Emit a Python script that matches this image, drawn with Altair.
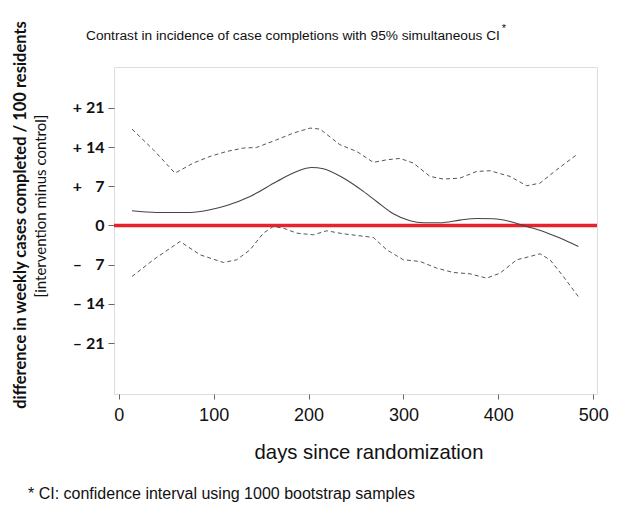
import altair as alt
import pandas as pd

# days since randomization
center_days = [14.0, 40.0, 75.1, 96.2, 113.8, 138.4, 166.5, 187.5, 203.3, 215.6, 236.7, 257.8,
               271.8, 289.4, 307.0, 321.0, 338.6, 359.6, 377.2, 394.8, 412.3, 429.9, 447.5, 465.0, 484.3]
center_vals = [2.62, 2.32, 2.32, 2.80, 3.57, 5.18, 7.86, 9.65, 10.36, 10.13, 8.46, 6.08,
               4.29, 2.08, 0.83, 0.48, 0.48, 0.95, 1.25, 1.19, 0.71, -0.18, -1.07, -2.26, -3.75]

upper_days = [14.0, 36.5, 59.3, 78.6, 96.2, 113.8, 131.3, 145.4, 166.5, 184.0, 201.6, 212.1, 233.2,
              250.8, 268.3, 282.4, 296.4, 310.5, 328.0, 342.1, 359.6, 377.2, 391.3, 412.3, 429.9,
              443.9, 461.5, 482.6]
upper_vals = [17.21, 13.52, 9.35, 11.14, 12.33, 13.22, 13.82, 13.94, 15.31, 16.50, 17.39, 17.21, 14.41,
              13.22, 11.26, 11.73, 11.97, 11.14, 8.76, 8.28, 8.46, 9.65, 9.77, 8.76, 7.09,
              7.56, 9.95, 12.63]

lower_days = [14.0, 36.5, 64.6, 85.7, 110.3, 124.3, 138.4, 152.4, 162.9, 173.5, 187.5, 205.1, 219.1,
              236.7, 268.3, 282.4, 299.9, 317.5, 335.1, 352.6, 370.2, 387.7, 401.8, 419.4, 433.4,
              443.9, 454.5, 468.5, 484.3]
lower_vals = [-9.11, -6.13, -2.86, -5.24, -6.61, -6.13, -4.35, -1.37, -0.18, -0.48, -1.37, -1.67, -0.95,
              -1.49, -2.14, -4.35, -6.13, -6.43, -7.62, -8.40, -8.64, -9.41, -8.52, -6.13, -5.54,
              -5.06, -6.13, -9.11, -12.69]

y_ticks = [21, 14, 7, 0, -7, -14, -21]
x_ticks = [0, 100, 200, 300, 400, 500]

title_text = "Contrast in incidence of case completions with 95% simultaneous CI"
y_title = "difference in weekly cases completed / 100 residents"
y_subtitle = "[intervention minus control]"
x_title = "days since randomization"
footnote = "* CI: confidence interval using 1000 bootstrap samples"

W, H = 483, 327

center_df = pd.DataFrame({"day": center_days, "value": center_vals})
upper_df = pd.DataFrame({"day": upper_days, "value": upper_vals})
lower_df = pd.DataFrame({"day": lower_days, "value": lower_vals})

xs = alt.Scale(domain=[-5, 504], nice=False, zero=False)
ys = alt.Scale(domain=[-30.1, 28.3], nice=False, zero=False)

x_axis = alt.Axis(values=x_ticks, title=None, grid=False, domain=False, tickSize=5,
                  tickColor="#666", labelFont="Liberation Sans", labelFontSize=18,
                  labelColor="#111", labelPadding=7, labelFlush=False)
y_axis = alt.Axis(values=y_ticks, title=None, grid=False, domain=False, tickSize=6,
                  tickColor="#666", labelFont="Lato", labelFontWeight="bold", labelFontSize=16,
                  labelColor="#111", labelPadding=4,
                  labelExpr="datum.value == 0 ? '0' : (datum.value > 0 ? '+ ' : '\u2013 ') + (abs(datum.value) < 10 ? '\u2007' : '') + abs(datum.value)")

zero_df = pd.DataFrame({"y": [0]})
red = alt.Chart(zero_df).mark_rule(color="#e8222a", strokeWidth=3.5).encode(
    y=alt.Y("y:Q", scale=ys, axis=y_axis))

upper = alt.Chart(upper_df).mark_line(color="#555", strokeWidth=1, strokeDash=[4, 3]).encode(
    x=alt.X("day:Q", scale=xs, axis=x_axis), y=alt.Y("value:Q", scale=ys))
lower = alt.Chart(lower_df).mark_line(color="#555", strokeWidth=1, strokeDash=[4, 3]).encode(
    x=alt.X("day:Q", scale=xs), y=alt.Y("value:Q", scale=ys))
center = alt.Chart(center_df).mark_line(color="#444", strokeWidth=1.1, interpolate="monotone").encode(
    x=alt.X("day:Q", scale=xs), y=alt.Y("value:Q", scale=ys))

def label(text, x, y, size, font="Liberation Sans", weight="normal", angle=0, align="center"):
    return alt.Chart(pd.DataFrame({"t": [text]})).mark_text(
        font=font, fontSize=size, fontWeight=weight, angle=angle, align=align,
        baseline="middle", color="#111").encode(
        text="t:N", x=alt.value(x), y=alt.value(y))

texts = [
    label(title_text, 86 - 114, 36 - 67, 13.7, align="left"),
    label("*", 504 - 114, 29 - 67, 11, align="center"),
    label(y_title, 21 - 114, 215 - 67, 16.5, font="Lato", weight="bold", angle=270),
    label(y_subtitle, 41 - 114, 206 - 67, 15, font="Lato", angle=270),
    label(x_title, 369 - 114, 453 - 67, 20.3),
    label(footnote, 28 - 114, 494 - 67, 16, align="left"),
]

chart = alt.layer(red, upper, lower, center, *texts).properties(
    width=W, height=H,
    autosize=alt.AutoSizeParams(type="none"),
    padding={"left": 114, "top": 67, "right": 25, "bottom": 112},
).configure_view(stroke="#666", strokeWidth=1.2).configure(background="white")

chart.save("out.html", embed_options={"renderer": "svg", "actions": False})
